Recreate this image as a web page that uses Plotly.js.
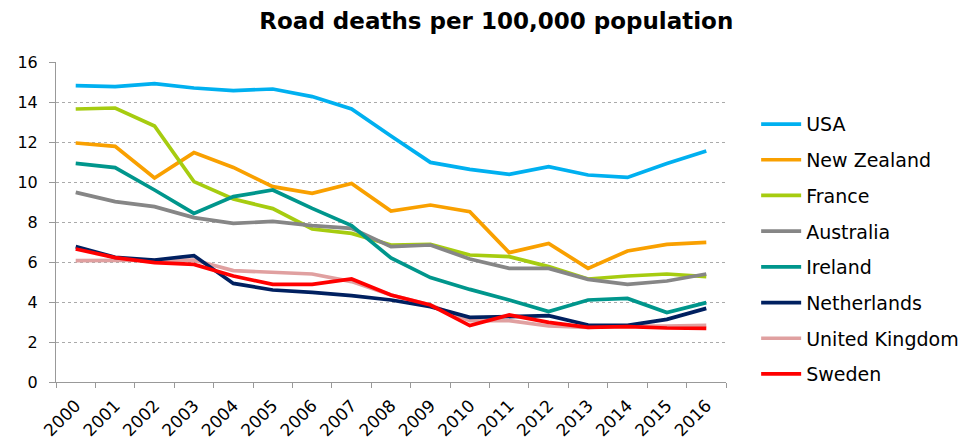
<!DOCTYPE html>
<html><head><meta charset="utf-8">
<script src="https://cdn.plot.ly/plotly-3.0.1.min.js"></script>
<style>body{margin:0;background:#fff}#chart{width:977px;height:443px}</style>
</head><body><div id="chart"></div>
<script>
const years = ['2000','2001','2002','2003','2004','2005','2006','2007','2008','2009','2010','2011','2012','2013','2014','2015','2016'];
const usa = [14.82,14.77,14.92,14.7,14.57,14.65,14.27,13.65,12.3,10.98,10.63,10.38,10.77,10.35,10.23,10.93,11.55];
const newZealand = [11.95,11.78,10.2,11.47,10.73,9.77,9.43,9.93,8.55,8.85,8.52,6.47,6.93,5.68,6.55,6.88,6.98];
const france = [13.65,13.7,12.8,10.02,9.15,8.67,7.65,7.43,6.85,6.88,6.35,6.27,5.77,5.15,5.3,5.4,5.27];
const australia = [9.48,9.02,8.77,8.22,7.93,8.03,7.82,7.68,6.77,6.85,6.15,5.68,5.68,5.13,4.88,5.05,5.4];
const ireland = [10.93,10.72,9.6,8.43,9.27,9.6,8.68,7.82,6.2,5.22,4.63,4.1,3.52,4.1,4.18,3.47,3.97];
const netherlands = [6.77,6.23,6.1,6.32,4.93,4.6,4.48,4.32,4.1,3.77,3.23,3.27,3.32,2.85,2.83,3.13,3.68];
const unitedKingdom = [6.07,6.08,6.1,6.1,5.57,5.48,5.4,5.02,4.35,3.85,3.07,3.07,2.8,2.73,2.8,2.8,2.83];
const sweden = [6.65,6.22,5.97,5.88,5.3,4.88,4.88,5.15,4.35,3.85,2.82,3.35,2.98,2.73,2.77,2.7,2.68];

const seriesNames = ['USA','New Zealand','France','Australia','Ireland','Netherlands','United Kingdom','Sweden'];
const seriesValues = [usa,newZealand,france,australia,ireland,netherlands,unitedKingdom,sweden];
const seriesColors = ['#00B0F0','#F9A000','#A6CC10','#868686','#00968C','#002060','#E0A0A0','#FF0000'];

const traces = seriesNames.map((n,i)=>({
  type:'scatter', mode:'lines', name:n, x:years, y:seriesValues[i],
  legendgroup:'g'+i, legendrank:i+1,
  line:{color:seriesColors[i], width:3.7}
}));
// draw order: UK underneath the others
const order = [6,0,1,2,3,4,5,7];
const drawn = order.map(i=>traces[i]);

const FONT = 'DejaVu Sans, Liberation Sans, Arial, sans-serif';
const layout = {
  width:977, height:443,
  margin:{l:56, r:251, t:62, b:61},
  paper_bgcolor:'#fff', plot_bgcolor:'#fff',
  font:{family:FONT, color:'#000'},
  title:{text:'<b>Road deaths per 100,000 population</b>', font:{size:23, color:'#000', family:FONT}, x:0.508, xanchor:'center', y:0.953, yanchor:'middle'},
  xaxis:{type:'category', tickson:'boundaries', ticks:'outside', ticklen:5, tickcolor:'#999',
    showline:true, linecolor:'#999', linewidth:1, showgrid:false, tickangle:-45,
    tickfont:{size:17}, ticklabelstandoff:6, range:[-0.5,16.5], fixedrange:true},
  yaxis:{range:[0,16], dtick:2, ticks:'outside', ticklen:6, tickcolor:'#999',
    showline:true, linecolor:'#999', linewidth:1, showgrid:true, gridcolor:'#aaa', griddash:'dot', gridwidth:1,
    zeroline:false, tickfont:{size:16}, ticklabelstandoff:8, fixedrange:true},
  showlegend:true,
  legend:{x:1.045, xanchor:'left', y:0.865, yanchor:'top', traceorder:'grouped', tracegroupgap:8,
    font:{size:19}, itemwidth:40, bgcolor:'rgba(0,0,0,0)'}
};
Plotly.newPlot('chart', drawn, layout, {displayModeBar:false, staticPlot:true});
</script></body></html>
